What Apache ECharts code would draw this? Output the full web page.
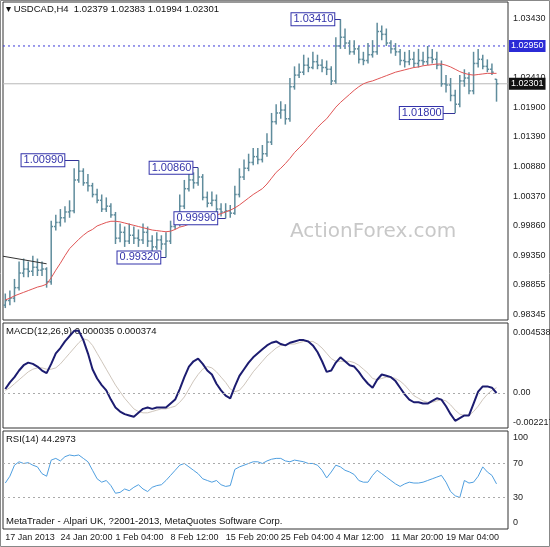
<!DOCTYPE html>
<html>
<head>
<meta charset="utf-8">
<script src="https://cdn.jsdelivr.net/npm/echarts@6/dist/echarts.min.js"></script>
<style>
  html, body { margin: 0; padding: 0; background: #fff; }
  #chart { width: 550px; height: 547px; }
</style>
</head>
<body>
<div id="chart"></div>
<script>
// 日期标签 (每12根K线一个)
const dateLabels = ['17 Jan 2013', '24 Jan 20:00', '1 Feb 04:00', '8 Feb 12:00', '15 Feb 20:00',
  '25 Feb 04:00', '4 Mar 12:00', '11 Mar 20:00', '19 Mar 04:00'];

// USDCAD H4 开高低收
const opens = [
  0.9850,0.9858,0.9862,0.9880,0.9905,0.9912,0.9908,0.9915,0.9910,0.9912,
  0.9890,0.9985,0.9992,1.0000,1.0010,1.0012,1.0065,1.0080,1.0060,1.0055,
  1.0040,1.0030,1.0015,1.0020,1.0005,0.9965,0.9975,0.9960,0.9970,0.9965,
  0.9962,0.9975,0.9960,0.9950,0.9962,0.9955,0.9960,0.9985,0.9990,1.0020,
  1.0050,1.0065,1.0060,1.0070,1.0035,1.0025,1.0030,1.0015,1.0010,1.0012,
  1.0008,1.0040,1.0070,1.0085,1.0095,1.0105,1.0100,1.0110,1.0130,1.0165,
  1.0180,1.0185,1.0170,1.0225,1.0245,1.0250,1.0262,1.0258,1.0268,1.0262,
  1.0258,1.0255,1.0235,1.0295,1.0310,1.0300,1.0285,1.0290,1.0272,1.0270,
  1.0280,1.0285,1.0320,1.0315,1.0300,1.0290,1.0285,1.0270,1.0268,1.0272,
  1.0265,1.0270,1.0268,1.0275,1.0272,1.0262,1.0230,1.0228,1.0210,1.0195,
  1.0235,1.0240,1.0218,1.0265,1.0272,1.0260,1.0255,1.02379
];
const highs = [
  0.9870,0.9875,0.9895,0.9925,0.9930,0.9925,0.9935,0.9930,0.9925,0.9915,
  0.9995,1.0005,1.0015,1.0020,1.0030,1.0085,1.0099,1.0085,1.0075,1.0060,
  1.0050,1.0040,1.0035,1.0025,1.0010,0.9990,0.9985,0.9990,0.9985,0.9980,
  0.9990,0.9985,0.9970,0.9975,0.9970,0.9975,0.9995,1.0010,1.0040,1.0065,
  1.0080,1.0078,1.0086,1.0075,1.0045,1.0045,1.0040,1.0025,1.0025,1.0022,
  1.0055,1.0085,1.0100,1.0110,1.0120,1.0120,1.0125,1.0145,1.0180,1.0195,
  1.0200,1.0195,1.0240,1.0260,1.0265,1.0280,1.0275,1.0285,1.0280,1.0272,
  1.0270,1.0260,1.0310,1.0341,1.0325,1.0305,1.0305,1.0295,1.0285,1.0300,
  1.0305,1.0335,1.0330,1.0325,1.0305,1.0300,1.0290,1.0285,1.0288,1.0285,
  1.0290,1.0285,1.0295,1.0290,1.0285,1.0270,1.0245,1.0240,1.0220,1.0245,
  1.0255,1.0250,1.0285,1.0290,1.0280,1.0272,1.0265,1.02383
];
const lows = [
  0.9845,0.9850,0.9855,0.9875,0.9898,0.9898,0.9900,0.9900,0.9900,0.9880,
  0.9885,0.9978,0.9985,0.9992,1.0000,1.0008,1.0060,1.0055,1.0045,1.0035,
  1.0025,1.0010,1.0010,1.0000,0.9955,0.9958,0.9950,0.9955,0.9955,0.9950,
  0.9955,0.9950,0.9940,0.9945,0.9945,0.9932,0.9955,0.9980,0.9985,1.0015,
  1.0045,1.0050,1.0055,1.0030,1.0018,1.0020,1.0008,1.0002,0.9999,1.0000,
  1.0005,1.0035,1.0065,1.0080,1.0090,1.0092,1.0095,1.0105,1.0125,1.0160,
  1.0170,1.0160,1.0165,1.0220,1.0240,1.0245,1.0250,1.0255,1.0255,1.0250,
  1.0245,1.0228,1.0230,1.0290,1.0290,1.0280,1.0280,1.0265,1.0262,1.0265,
  1.0275,1.0280,1.0305,1.0295,1.0282,1.0278,1.0262,1.0258,1.0262,1.0258,
  1.0258,1.0262,1.0262,1.0265,1.0255,1.0225,1.0215,1.0200,1.0180,1.0190,
  1.0225,1.0212,1.0212,1.0258,1.0255,1.0250,1.0245,1.01994
];
const closes = [
  0.9858,0.9862,0.9880,0.9905,0.9912,0.9908,0.9915,0.9910,0.9912,0.9890,
  0.9985,0.9992,1.0000,1.0010,1.0012,1.0065,1.0080,1.0060,1.0055,1.0040,
  1.0030,1.0015,1.0020,1.0005,0.9965,0.9975,0.9960,0.9970,0.9965,0.9962,
  0.9975,0.9960,0.9950,0.9962,0.9955,0.9960,0.9985,0.9990,1.0020,1.0050,
  1.0065,1.0060,1.0070,1.0035,1.0025,1.0030,1.0015,1.0010,1.0012,1.0008,
  1.0040,1.0070,1.0085,1.0095,1.0105,1.0100,1.0110,1.0130,1.0165,1.0180,
  1.0185,1.0170,1.0225,1.0245,1.0250,1.0262,1.0258,1.0268,1.0262,1.0258,
  1.0255,1.0235,1.0295,1.0310,1.0300,1.0285,1.0290,1.0272,1.0270,1.0280,
  1.0285,1.0320,1.0315,1.0300,1.0290,1.0285,1.0270,1.0268,1.0272,1.0265,
  1.0270,1.0268,1.0275,1.0272,1.0262,1.0230,1.0228,1.0210,1.0195,1.0235,
  1.0240,1.0218,1.0265,1.0272,1.0260,1.0255,1.0250,1.02301
];
// 均线
const maValues = [
  0.9859,0.9862,0.9866,0.9869,0.9872,0.9875,0.9878,0.9881,0.9883,0.9886,
  0.9897,0.9910,0.9922,0.9935,0.9947,0.9955,0.9963,0.9970,0.9976,0.9980,
  0.9986,0.9989,0.9992,0.9994,0.9994,0.9993,0.9991,0.9989,0.9987,0.9985,
  0.9983,0.9981,0.9979,0.9978,0.9977,0.9976,0.9977,0.9980,0.9984,0.9986,
  0.9989,0.9992,0.9995,0.9997,0.9999,1.0002,1.0005,1.0007,1.0010,1.0013,
  1.0017,1.0022,1.0028,1.0034,1.0040,1.0045,1.0050,1.0058,1.0068,1.0078,
  1.0085,1.0093,1.0102,1.0112,1.0120,1.0128,1.0137,1.0146,1.0155,1.0163,
  1.0170,1.0180,1.0190,1.0198,1.0205,1.0212,1.0219,1.0225,1.0230,1.0233,
  1.0235,1.0238,1.0241,1.0244,1.0247,1.0250,1.0252,1.0254,1.0256,1.0258,
  1.0259,1.0261,1.0262,1.0263,1.0264,1.0264,1.0262,1.0259,1.0255,1.0251,
  1.0248,1.0246,1.0245,1.0246,1.0247,1.0248,1.0248,1.0248
];
// 趋势线
const trendLine = [[-0.5, 0.9934], [9, 0.9921]];
// 水平线: 阻力位 / 当前价
const resistLevel = 1.0295;
const lastPrice = 1.02301;
// 价格标注 [名称, 标签位置, 所在K线, 价格]
const priceNotes = [
  ['1.00990', 8.2, 16, 1.0099],
  ['0.99320', 29.1, 35, 0.9932],
  ['1.00860', 36.1, 42, 1.0086],
  ['0.99990', 41.5, 48, 0.9999],
  ['1.03410', 67, 73, 1.0341],
  ['1.01800', 90.6, 98, 1.0180]
];
const priceTicks = [1.0343, 1.0241, 1.0190, 1.0139, 1.0088, 1.0037, 0.9986, 0.9935, 0.98855, 0.98345];

// MACD
const macdMain = [
  0.0003,0.0008,0.0012,0.0017,0.0021,0.0023,0.0022,0.0020,0.0017,0.0015,
  0.0022,0.0030,0.0034,0.0039,0.0043,0.0047,0.0047,0.0040,0.0030,0.0018,
  0.0011,0.0006,0.0002,-0.0005,-0.0011,-0.0014,-0.0016,-0.0017,-0.0018,-0.0015,
  -0.0012,-0.0011,-0.0012,-0.0011,-0.0011,-0.0011,-0.0008,-0.0005,0.0003,0.0012,
  0.0020,0.0024,0.0026,0.0022,0.0017,0.0014,0.0007,0.0002,-0.0002,-0.0004,
  0.0005,0.0013,0.0018,0.0023,0.0027,0.0030,0.0033,0.0036,0.0038,0.0039,
  0.0037,0.0036,0.0038,0.0039,0.0040,0.0040,0.0039,0.0036,0.0031,0.0024,
  0.0016,0.0017,0.0023,0.0027,0.0024,0.0021,0.0020,0.0016,0.0011,0.0007,
  0.0004,0.0010,0.0014,0.0013,0.0012,0.0009,0.0004,-0.0001,-0.0005,-0.0007,
  -0.0007,-0.0008,-0.0008,-0.0006,-0.0004,-0.0005,-0.0010,-0.0016,-0.0021,-0.0019,
  -0.0017,-0.0017,-0.0008,0.0001,0.0005,0.0005,0.0004,0.0000
];
const macdSignal = [
  0.0002,0.0004,0.0007,0.0010,0.0013,0.0016,0.0018,0.0019,0.0019,0.0018,
  0.0018,0.0019,0.0022,0.0026,0.0030,0.0034,0.0038,0.0041,0.0040,0.0036,
  0.0030,0.0024,0.0018,0.0012,0.0006,0.0001,-0.0004,-0.0008,-0.0012,-0.0014,
  -0.0015,-0.0015,-0.0014,-0.0013,-0.0012,-0.0012,-0.0011,-0.0010,-0.0007,-0.0003,
  0.0003,0.0009,0.0014,0.0018,0.0020,0.0019,0.0016,0.0012,0.0008,0.0003,
  0.0001,0.0002,0.0006,0.0011,0.0016,0.0020,0.0024,0.0028,0.0031,0.0034,
  0.0036,0.0036,0.0037,0.0037,0.0038,0.0039,0.0039,0.0039,0.0037,0.0034,
  0.0030,0.0026,0.0024,0.0024,0.0024,0.0024,0.0023,0.0021,0.0018,0.0015,
  0.0011,0.0010,0.0011,0.0012,0.0012,0.0011,0.0009,0.0006,0.0002,-0.0002,
  -0.0004,-0.0006,-0.0007,-0.0007,-0.0006,-0.0005,-0.0006,-0.0009,-0.0013,-0.0016,
  -0.0017,-0.0017,-0.0014,-0.0010,-0.0005,-0.0001,0.0002,0.0004
];
// RSI(14)
const rsiValues = [
  47,55,68,72,70,71,68,66,58,55,
  74,76,73,78,80,79,80,76,72,62,
  52,48,50,44,35,36,40,38,42,45,
  40,37,42,44,45,50,56,62,68,70,
  66,62,58,52,50,48,50,45,43,44,
  63,66,68,70,72,72,70,73,75,76,
  76,73,72,74,73,72,70,70,68,62,
  53,60,68,66,62,60,57,50,48,48,
  56,62,58,54,50,46,43,46,48,47,
  47,48,50,52,54,56,48,37,32,30,
  50,47,48,55,66,60,56,46
];

const FONT = 'Liberation Sans';
const X_MIN = -0.5, X_MAX = 109.5;
const idx = arr => arr.map((v, i) => [i, v]);
const ohlc = closes.map((c, i) => [i, opens[i], highs[i], lows[i], c]);
const dateTicks = dateLabels.map((d, i) => i * 12);

let chart = echarts.init(document.getElementById('chart'));

//x轴公共配置
function makeX(gridIndex, showLabel) {
  return {
    type: 'value', gridIndex, min: X_MIN, max: X_MAX,
    axisLine: { show: false }, splitLine: { show: false }, axisTick: { show: false },
    axisLabel: {
      show: showLabel, customValues: dateTicks,
      formatter: v => dateLabels[Math.round(v / 12)],
      align: 'left', fontSize: 9, color: '#222', fontFamily: FONT, margin: 4
    }
  };
}
function makeY(gridIndex, min, max, ticks, fmt) {
  return {
    type: 'value', gridIndex, position: 'right', min, max,
    axisLine: { show: false }, splitLine: { show: false }, axisTick: { show: false },
    axisLabel: { customValues: ticks, formatter: fmt, fontSize: 9, color: '#222', fontFamily: FONT, margin: 5 }
  };
}
function makeGrid(top, height) {
  return { left: 3, right: 42, top, height, show: true, borderColor: '#333', borderWidth: 1,
    outerBoundsMode: 'none', containLabel: false };
}

//水平线 (带右侧价格框)
function hLine(level, color, type, bg) {
  return {
    type: 'line', xAxisIndex: 0, yAxisIndex: 0, showSymbol: false, z: 2, silent: true,
    data: [[X_MIN, level], [X_MAX, level]],
    lineStyle: { color, type, width: 1 },
    endLabel: { show: true, formatter: level.toFixed(5), backgroundColor: bg, color: '#fff',
      fontSize: 9, padding: [2, 2, 1, 2], fontFamily: FONT, distance: 1 }
  };
}

const noteMarks = priceNotes.map(n => ({ coord: [n[1], n[3]], value: n[0] }));
const noteLines = priceNotes.map(n => [{ coord: [n[1] + 4, n[3]] }, { coord: [n[2], n[3]] }]);

let option = {
  backgroundColor: '#ffffff',
  animation: false,
  graphic: [
    { type: 'rect', shape: { x: 0.5, y: 0.5, width: 549, height: 546 }, style: { fill: 'none', stroke: '#888' } },
    { type: 'text', left: 290, top: 222, style: { text: 'ActionForex.com', fontSize: 20, fill: '#c8c8c8', fontFamily: 'DejaVu Sans' }, z: 0 },
    { type: 'text', left: 6, top: 4, style: { text: '▾ USDCAD,H4  1.02379 1.02383 1.01994 1.02301', fontSize: 9.5, fill: '#111', fontFamily: FONT } },
    { type: 'text', left: 6, top: 326, style: { text: 'MACD(12,26,9) 0.000035 0.000374', fontSize: 9.5, fill: '#111', fontFamily: FONT } },
    { type: 'text', left: 6, top: 434, style: { text: 'RSI(14) 44.2973', fontSize: 9.5, fill: '#111', fontFamily: FONT } },
    { type: 'text', left: 6, top: 516, style: { text: 'MetaTrader - Alpari UK, ?2001-2013, MetaQuotes Software Corp.', fontSize: 9.5, fill: '#111', fontFamily: FONT } }
  ],
  grid: [makeGrid(2, 318), makeGrid(323, 105), makeGrid(431, 98)],
  xAxis: [makeX(0, false), makeX(1, false), makeX(2, true)],
  yAxis: [
    makeY(0, 0.98245, 1.03705, priceTicks, v => v.toFixed(5)),
    makeY(1, -0.002647, 0.005294, [0.004538, 0, -0.002217], v => v === 0 ? '0.00' : v.toFixed(6)),
    makeY(2, -7.06, 108.2, [100, 70, 30, 0], v => String(v))
  ],
  series: [
    hLine(lastPrice, '#b8b8b8', 'solid', '#111'),
    hLine(resistLevel, '#3a3ad8', [2, 3], '#2b2bd6'),
    {
      //K线 (OHLC bars)
      type: 'custom', xAxisIndex: 0, yAxisIndex: 0, data: ohlc, z: 3,
      renderItem(params, api) {
        const i = api.value(0);
        const o = api.coord([i, api.value(1)]);
        const h = api.coord([i, api.value(2)]);
        const l = api.coord([i, api.value(3)]);
        const c = api.coord([i, api.value(4)]);
        const w = api.size([1, 0])[0] * 0.4;
        const style = { stroke: '#5f8c9c', lineWidth: 1.5 };
        return {
          type: 'group', children: [
            { type: 'line', shape: { x1: h[0], y1: h[1], x2: l[0], y2: l[1] }, style },
            { type: 'line', shape: { x1: o[0] - w, y1: o[1], x2: o[0], y2: o[1] }, style },
            { type: 'line', shape: { x1: c[0], y1: c[1], x2: c[0] + w, y2: c[1] }, style }
          ]
        };
      }
    },
    {
      type: 'line', xAxisIndex: 0, yAxisIndex: 0, data: idx(maValues), showSymbol: false, z: 4,
      lineStyle: { color: '#e05555', width: 1 }
    },
    {
      type: 'line', xAxisIndex: 0, yAxisIndex: 0, data: trendLine, showSymbol: false, z: 4,
      lineStyle: { color: '#333', width: 1 }
    },
    {
      //价格标注
      type: 'scatter', xAxisIndex: 0, yAxisIndex: 0, data: [], z: 6,
      markLine: {
        symbol: 'none', silent: true, label: { show: false },
        lineStyle: { color: '#333399', type: 'solid', width: 1 },
        data: noteLines
      },
      markPoint: {
        symbol: 'rect', symbolSize: 1, itemStyle: { color: 'transparent' },
        label: {
          show: true, position: 'inside', formatter: p => p.value,
          color: '#3333aa', backgroundColor: '#fff', borderColor: '#3333aa', borderWidth: 1,
          padding: [1, 1, 0, 2], fontSize: 11, fontFamily: FONT
        },
        data: noteMarks
      }
    },
    {
      type: 'line', xAxisIndex: 1, yAxisIndex: 1, data: idx(macdSignal), showSymbol: false,
      lineStyle: { color: '#cfc6bc', width: 1 },
      markLine: {
        symbol: 'none', silent: true, label: { show: false },
        lineStyle: { color: '#aaa', type: [2, 3], width: 1 }, data: [{ yAxis: 0 }]
      }
    },
    {
      type: 'line', xAxisIndex: 1, yAxisIndex: 1, data: idx(macdMain), showSymbol: false,
      lineStyle: { color: '#1c1c70', width: 2 }
    },
    {
      type: 'line', xAxisIndex: 2, yAxisIndex: 2, data: idx(rsiValues), showSymbol: false,
      lineStyle: { color: '#4f9fe0', width: 1 },
      markLine: {
        symbol: 'none', silent: true, label: { show: false },
        lineStyle: { color: '#aaa', type: [2, 3], width: 1 }, data: [{ yAxis: 70 }, { yAxis: 30 }]
      }
    }
  ]
};
chart.setOption(option);
</script>
</body>
</html>
